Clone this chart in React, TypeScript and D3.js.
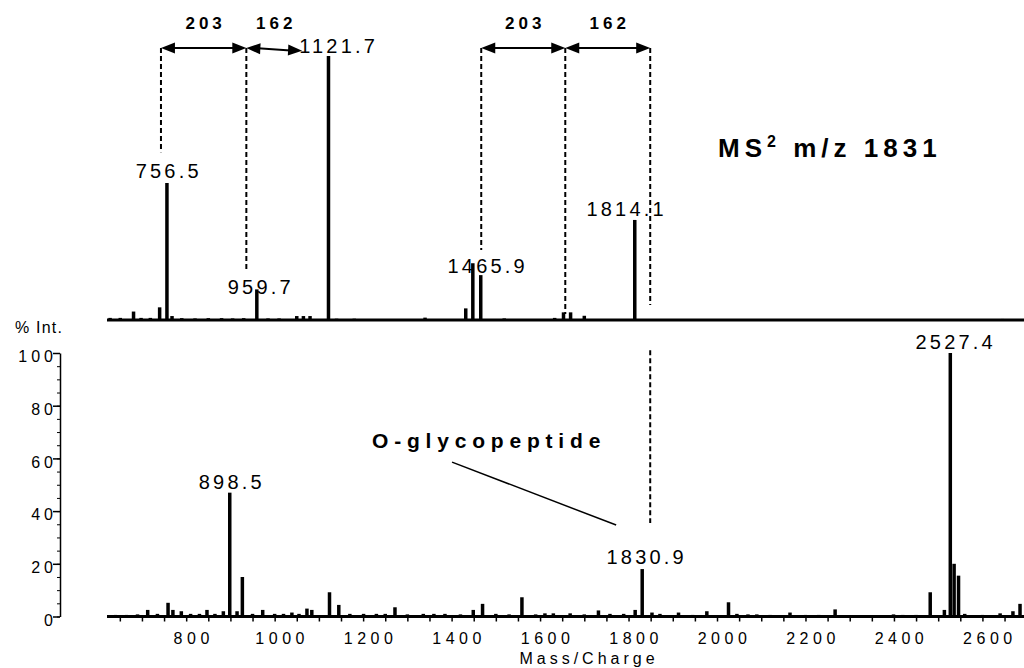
import React, { useEffect, useRef } from "react";
import * as d3 from "d3";

// MS2 spectrum of m/z 1831 (upper trace): mass and relative intensity
const ms2Mass = [628, 651, 681, 698, 719, 740, 756.5, 768, 790, 820, 850, 880, 905, 930, 959.7, 985, 1010, 1050, 1065, 1080, 1121.7, 1140, 1180, 1340, 1432, 1448, 1465.9, 1519, 1633, 1653, 1669, 1700, 1814.1, 2646];
const ms2Int = [0.8, 0.8, 3.2, 0.8, 0.8, 4.8, 51.9, 1.5, 0.7, 0.6, 0.7, 0.7, 0.6, 0.7, 11.6, 0.6, 0.6, 1.5, 1.5, 1.5, 100, 0.5, 0.5, 0.9, 4.4, 21.5, 17, 0.6, 0.8, 2.9, 2.9, 1.6, 37.9, 0.4];

// MS spectrum (lower trace)
const msMass = [640, 665, 690, 713, 735, 759, 770, 789, 810, 830, 847, 865, 884, 898.5, 915, 927, 950, 973, 1000, 1020, 1039, 1055, 1073, 1084, 1124, 1145, 1170, 1201, 1230, 1250, 1272, 1300, 1336, 1360, 1385, 1420, 1449, 1470, 1500, 1530, 1559, 1590, 1611, 1630, 1668, 1700, 1732, 1758, 1789, 1815, 1830.9, 1853, 1871, 1913, 1945, 1977, 2026, 2045, 2070, 2090, 2120, 2165, 2200, 2230, 2267, 2300, 2399, 2420, 2450, 2482, 2514, 2527.4, 2536, 2546, 2560, 2600, 2640, 2669, 2685];
const msInt = [0.6, 0.6, 0.8, 2.5, 1, 5.2, 2.5, 2, 1, 1, 2.5, 1, 2, 47, 2, 15, 1, 2.5, 1, 1, 1.5, 1, 3, 2.5, 9.2, 4.4, 1, 1, 1, 1, 3.5, 0.8, 1, 1, 1, 0.8, 2.5, 4.8, 1, 0.8, 7.3, 0.8, 1.2, 1.2, 1.2, 0.8, 2.3, 1, 1, 2.5, 18, 1.5, 1, 1.5, 0.6, 2, 5.4, 1, 0.8, 0.8, 0.6, 1.5, 0.6, 0.6, 2.7, 0.4, 0.8, 0.6, 0.6, 9.2, 2.5, 100, 20, 15.5, 1, 0.6, 1.2, 2, 4.8];

// peak labels (label centre mass, label baseline intensity)
const ms2LabelText = ["756.5", "959.7", "1121.7", "1465.9", "1814.1"];
const ms2LabelMass = [757, 965, 1141, 1478, 1792];
const ms2LabelInt = [53.8, 9.7, 101.1, 17.7, 39.4];
const msLabelText = ["898.5", "1830.9", "2527.4"];
const msLabelMass = [899.5, 1837.5, 2536];
const msLabelInt = [48.5, 19.9, 101.4];

// mass-difference arrows and dashed guides in the upper trace
const arrowFrom = [743, 936, 1467, 1657];
const arrowTo = [936, 1062, 1657, 1849];
const arrowFromInt = [103, 103, 103, 103];
const arrowToInt = [103, 102, 103, 103];
const arrowText = ["203", "162", "203", "162"];
const guideMass = [743, 936, 1467, 1657, 1849];
const guideTop = [103, 103, 103, 103, 103];
const guideBottom = [63.5, 19, 26.5, 2.3, 5.7];

const xTicks = d3.range(650, 2694, 50);
const yTicks = [0, 20, 40, 60, 80, 100];
const FONT = "'Liberation Sans', Arial, sans-serif";

export default function App() {
  const svgRef = useRef(null);

  useEffect(() => {
    const width = 1024;
    const height = 668;
    const svg = d3.select(svgRef.current).attr("width", width).attr("height", height);
    svg.selectAll("*").remove();

    const x = d3.scaleLinear().domain([621, 2694]).range([107, 1024]);
    const yTop = d3.scaleLinear().domain([0, 100]).range([320, 56]);
    const yBot = d3.scaleLinear().domain([0, 100]).range([616.5, 353]);

    svg.append("rect").attr("width", width).attr("height", height).attr("fill", "#fff");

    // baselines
    [yTop, yBot].forEach((y) => {
      svg.append("line")
        .attr("x1", x(621)).attr("x2", x(2694))
        .attr("y1", y(0)).attr("y2", y(0))
        .attr("stroke", "#000").attr("stroke-width", 3);
    });

    // peaks
    const drawPeaks = (mass, inten, y) => {
      svg.append("g")
        .selectAll("line")
        .data(mass)
        .join("line")
        .attr("x1", (d) => x(d)).attr("x2", (d) => x(d))
        .attr("y1", y(0)).attr("y2", (d, i) => y(inten[i]))
        .attr("stroke", "#000").attr("stroke-width", 3.5);
    };
    drawPeaks(ms2Mass, ms2Int, yTop);
    drawPeaks(msMass, msInt, yBot);

    // x axis
    const xAxis = svg.append("g")
      .attr("transform", `translate(0,${yBot(0)})`)
      .call(d3.axisBottom(x).tickValues(xTicks).tickSize(5).tickPadding(11)
        .tickFormat((d) => (d % 200 === 0 ? String(d) : "")));
    xAxis.select(".domain").remove();
    xAxis.selectAll("line").attr("stroke-width", 1.5);
    xAxis.selectAll("text")
      .attr("font-family", FONT).attr("font-size", 16)
      .attr("letter-spacing", "4.5px").attr("dx", 7).attr("fill", "#000");

    // y axis
    const yMinor = svg.append("g")
      .attr("transform", `translate(60,0)`)
      .call(d3.axisLeft(yBot).tickValues(d3.range(0, 101, 5)).tickSize(3).tickSizeOuter(0).tickFormat(() => ""));
    yMinor.select(".domain").attr("stroke-width", 1.5);
    const yAxis = svg.append("g")
      .attr("transform", `translate(60,0)`)
      .call(d3.axisLeft(yBot).tickValues(yTicks).tickSize(7).tickSizeOuter(0).tickPadding(0));
    yAxis.select(".domain").remove();
    yAxis.selectAll("line").attr("stroke-width", 1.5);
    yAxis.selectAll("text")
      .attr("font-family", FONT).attr("font-size", 16)
      .attr("letter-spacing", "4px").attr("x", -3).attr("dy", "0.55em").attr("fill", "#000");

    svg.append("text")
      .attr("x", 15).attr("y", 333)
      .attr("font-family", FONT).attr("font-size", 16).attr("letter-spacing", "1.2px")
      .text("% Int.");

    // peak labels
    const drawLabels = (texts, mass, inten, y) => {
      svg.append("g")
        .selectAll("text")
        .data(texts)
        .join("text")
        .attr("x", (d, i) => x(mass[i]) + 1.6)
        .attr("y", (d, i) => y(inten[i]))
        .attr("text-anchor", "middle")
        .attr("font-family", FONT).attr("font-size", 20).attr("letter-spacing", "3.2px")
        .text((d) => d);
    };
    drawLabels(ms2LabelText, ms2LabelMass, ms2LabelInt, yTop);
    drawLabels(msLabelText, msLabelMass, msLabelInt, yBot);

    // dashed guides
    svg.append("g")
      .selectAll("line")
      .data(guideMass)
      .join("line")
      .attr("x1", (d) => x(d)).attr("x2", (d) => x(d))
      .attr("y1", (d, i) => yTop(guideTop[i])).attr("y2", (d, i) => yTop(guideBottom[i]))
      .attr("stroke", "#000").attr("stroke-width", 2).attr("stroke-dasharray", "5,3");
    svg.append("line")
      .attr("x1", x(1849)).attr("x2", x(1849))
      .attr("y1", yBot(101)).attr("y2", yBot(35.5))
      .attr("stroke", "#000").attr("stroke-width", 2).attr("stroke-dasharray", "5,3");

    // double-headed arrows
    const head = (tx, ty, ang) => {
      const len = 14, hw = 5.5;
      const c = Math.cos(ang), s = Math.sin(ang);
      const bx = tx - len * c, by = ty - len * s;
      return `M${tx},${ty}L${bx - hw * s},${by + hw * c}L${bx + hw * s},${by - hw * c}Z`;
    };
    arrowFrom.forEach((m, i) => {
      const x1 = x(m), y1 = yTop(arrowFromInt[i]);
      const x2 = x(arrowTo[i]), y2 = yTop(arrowToInt[i]);
      const ang = Math.atan2(y2 - y1, x2 - x1);
      svg.append("line")
        .attr("x1", x1 + 8).attr("y1", y1).attr("x2", x2 - 8).attr("y2", y2)
        .attr("stroke", "#000").attr("stroke-width", 2);
      svg.append("path").attr("d", head(x2, y2, ang)).attr("fill", "#000");
      svg.append("path").attr("d", head(x1, y1, ang + Math.PI)).attr("fill", "#000");
      svg.append("text")
        .attr("x", x((m + arrowTo[i]) / 2) + 2).attr("y", yTop(110.1))
        .attr("text-anchor", "middle")
        .attr("font-family", FONT).attr("font-size", 17).attr("font-weight", "bold")
        .attr("letter-spacing", "4px")
        .text(arrowText[i]);
    });

    // title
    const title = svg.append("text")
      .attr("x", x(2002.5)).attr("y", yTop(61.7))
      .attr("font-family", FONT).attr("font-size", 26).attr("font-weight", "bold")
      .attr("letter-spacing", "5px");
    title.append("tspan").text("MS");
    title.append("tspan").attr("dy", -10).attr("font-size", 16).text("2");
    title.append("tspan").attr("dy", 10).text(" m/z 1831");

    // O-glycopeptide annotation
    svg.append("text")
      .attr("x", x(1478) + 3).attr("y", yBot(64))
      .attr("text-anchor", "middle")
      .attr("font-family", FONT).attr("font-size", 21).attr("font-weight", "bold")
      .attr("letter-spacing", "5.8px")
      .text("O-glycopeptide");
    svg.append("line")
      .attr("x1", x(1401)).attr("y1", yBot(58.6))
      .attr("x2", x(1772)).attr("y2", yBot(34.7))
      .attr("stroke", "#000").attr("stroke-width", 1.5);

    // axis title
    svg.append("text")
      .attr("x", 589).attr("y", 664)
      .attr("text-anchor", "middle")
      .attr("font-family", FONT).attr("font-size", 16).attr("letter-spacing", "4px")
      .text("Mass/Charge");
  }, []);

  return <svg ref={svgRef} style={{ position: "absolute", left: 0, top: 0, display: "block" }}></svg>;
}
